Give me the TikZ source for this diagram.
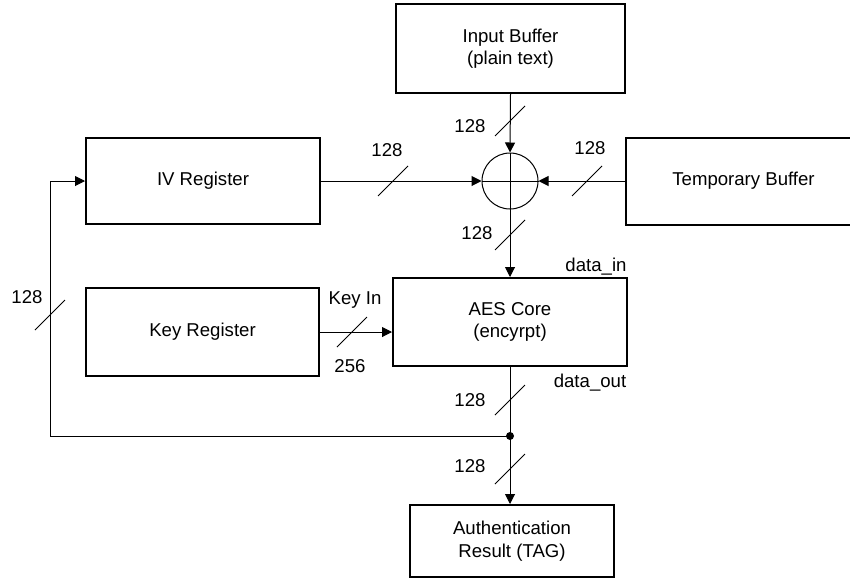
\documentclass[tikz,border=0pt]{standalone}
\usepackage{fontspec}
\setmainfont{Liberation Sans}
\usetikzlibrary{arrows.meta,calc}
\begin{document}
\begin{tikzpicture}[x=1pt,y=-1pt,
  font=\fontsize{18.6}{22.5}\selectfont,
  blk/.style={draw,line width=2pt,rectangle,inner sep=0pt,align=center},
  conn/.style={line width=1pt},
  arr/.style={conn,-{Triangle[length=10pt,width=10pt]}},
  busslash/.style={line width=1pt},
  lbl/.style={inner sep=0pt}]
\useasboundingbox (0,0) rectangle (850,579);
\node[blk,minimum width=229pt,minimum height=89pt] (inbuf) at (510.5,48.5) {Input Buffer\\(plain text)};
\node[blk,minimum width=234pt,minimum height=86pt] (iv) at (203,181) {IV Register};
\node[blk,minimum width=235pt,minimum height=87pt] (temp) at (743.5,181) {Temporary Buffer};
\node[blk,minimum width=233pt,minimum height=88pt] (key) at (202.5,332) {Key Register};
\node[blk,minimum width=234pt,minimum height=88pt] (aes) at (510,322) {AES Core\\(encyrpt)};
\node[blk,minimum width=204pt,minimum height=72pt] (auth) at (512,541) {Authentication\\Result (TAG)};
\node[draw,conn,circle,minimum size=56pt,inner sep=0pt] (xor) at (510,181) {};
\draw[conn] (xor.north) -- (xor.south) (xor.west) -- (xor.east);
% connectors
\draw[arr] (inbuf.south) -- (xor.north);
\draw[arr] (iv.east) -- (xor.west);
\draw[arr] (temp.west) -- (xor.east);
\draw[arr] (xor.south) -- (aes.north);
\draw[arr] (key.east) -- (key.east -| aes.west);
\coordinate (j) at (510,436);
\coordinate (cl) at (50,436);
\draw[conn] (aes.south) -- (j);
\draw[arr] (j) -- (j |- auth.north);
\draw[arr] (j) -- (cl) -- (cl |- iv.west) -- (iv.west);
\fill (j) circle (4pt);
% bus slashes
\foreach \p in {(510,121),(510,235),(393,181),(587,181),(352,332),(510,400),(510,469),(50,315)}
  \draw[busslash] \p ++(-15,15) -- ++(30,-30);
% labels
\node[lbl] (l1) at (470,126) {128};
\node[lbl] (l2) at (590,148) {128};
\node[lbl] (l3) at (387,150) {128};
\node[lbl] (l4) at (477,233) {128};
\node[lbl,anchor=base] (l5) at (596,271) {data\_in};
\node[lbl] (l6) at (355,300) {Key In};
\node[lbl] (l7) at (350,366) {256};
\node[lbl,anchor=base] (l8) at (590,387) {data\_out};
\node[lbl] (l9) at (470,400) {128};
\node[lbl] (l10) at (470,466) {128};
\node[lbl] (l11) at (27,297) {128};
\end{tikzpicture}
\end{document}
